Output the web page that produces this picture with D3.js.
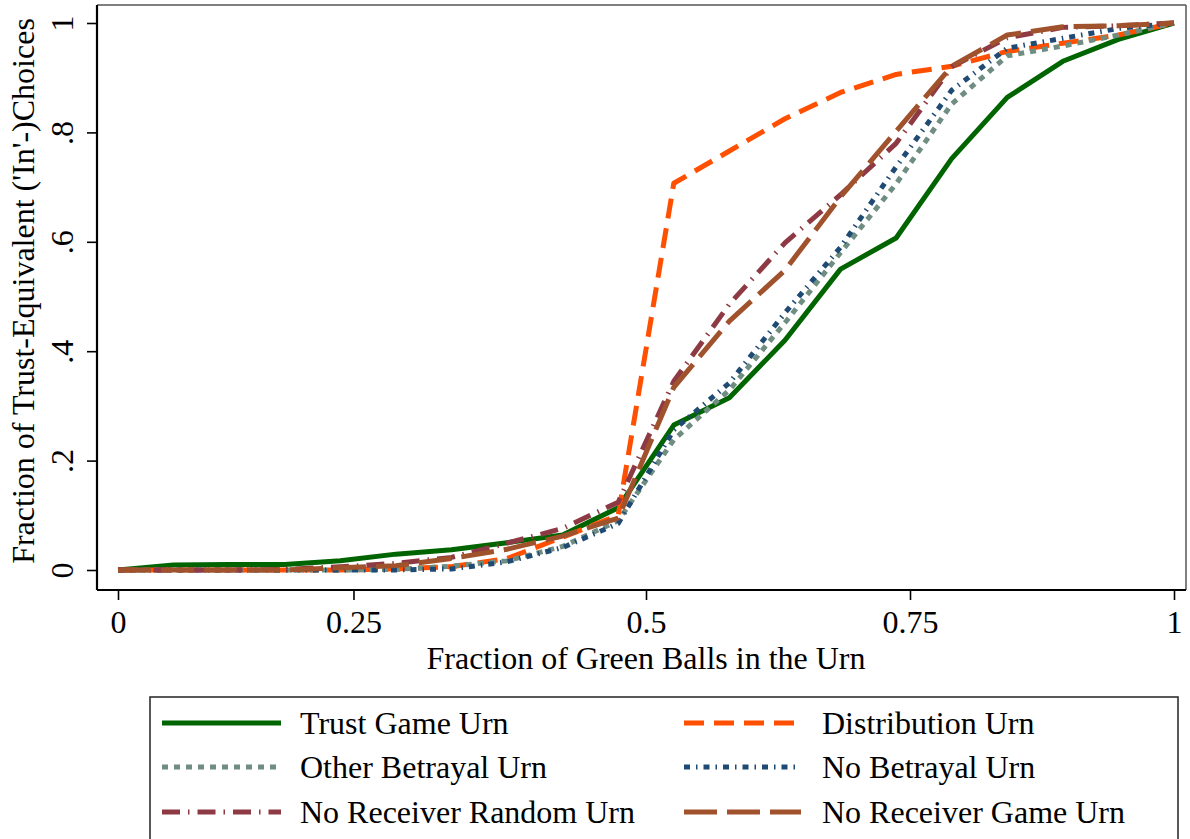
<!DOCTYPE html>
<html>
<head>
<meta charset="utf-8">
<script src="https://cdn.jsdelivr.net/npm/d3@7"></script>
<style>
  html, body { margin: 0; padding: 0; background: #ffffff; }
  svg { display: block; }
  text { font-family: "Liberation Serif", "Times New Roman", serif; fill: #000; }
</style>
</head>
<body>
<svg id="chart" width="1190" height="839"></svg>
<script>
// ---------------- data ----------------
const xValues = [0, 1/19, 2/19, 3/19, 4/19, 5/19, 6/19, 7/19, 8/19, 9/19, 10/19, 11/19, 12/19, 13/19, 14/19, 15/19, 16/19, 17/19, 18/19, 1];

const trustGameUrn      = [0, 0.009, 0.01, 0.01, 0.017, 0.029, 0.037, 0.05, 0.064, 0.114, 0.265, 0.315, 0.42, 0.55, 0.607, 0.752, 0.864, 0.93, 0.97, 1];
const distributionUrn   = [0, 0, 0, 0, 0, 0.002, 0.006, 0.021, 0.06, 0.1, 0.707, 0.766, 0.825, 0.873, 0.906, 0.921, 0.948, 0.963, 0.978, 1];
const otherBetrayalUrn  = [0, 0, 0, 0, 0, 0.001, 0.007, 0.017, 0.043, 0.09, 0.238, 0.329, 0.452, 0.58, 0.706, 0.852, 0.94, 0.958, 0.978, 1];
const noBetrayalUrn     = [0, 0, 0, 0, 0, 0, 0.002, 0.015, 0.041, 0.085, 0.256, 0.342, 0.47, 0.59, 0.737, 0.877, 0.954, 0.972, 0.99, 1];
const noReceiverRandom  = [0, 0, 0, 0.001, 0.006, 0.012, 0.023, 0.049, 0.076, 0.124, 0.345, 0.486, 0.598, 0.686, 0.78, 0.92, 0.973, 0.992, 0.995, 1];
const noReceiverGame    = [0, 0, 0, 0, 0.004, 0.008, 0.021, 0.038, 0.062, 0.095, 0.334, 0.455, 0.548, 0.682, 0.802, 0.921, 0.978, 0.993, 0.995, 1];

const seriesNames = ["Trust Game Urn", "Distribution Urn", "Other Betrayal Urn", "No Betrayal Urn", "No Receiver Random Urn", "No Receiver Game Urn"];
const seriesValues = [trustGameUrn, distributionUrn, otherBetrayalUrn, noBetrayalUrn, noReceiverRandom, noReceiverGame];

const xTickValues = [0, 0.223, 0.5, 0.75, 1];
const xTickLabels = ["0", "0.25", "0.5", "0.75", "1"];
const yTickValues = [0, 0.2, 0.4, 0.6, 0.8, 1];
const yTickLabels = ["0", ".2", ".4", ".6", ".8", "1"];

const xTitle = "Fraction of Green Balls in the Urn";
const yTitle = "Fraction of Trust-Equivalent ('In'-)Choices";

// ---------------- styles ----------------
const styles = [
  { color: "#006400", dash: null },
  { color: "#ff4f00", dash: "20,10" },
  { color: "#6f8d80", dash: "6,6" },
  { color: "#1f4a73", dash: "6,6,1.5,6" },
  { color: "#8e3a44", dash: "18,8,1.5,8" },
  { color: "#a0522d", dash: "33,10" }
];
const FS = 32;

// ---------------- layout ----------------
const svg = d3.select("#chart");
const frame = { left: 97, right: 1186, top: 5, bottom: 590 };

const x = d3.scaleLinear().domain([0, 1]).range([118, 1174]);
const y = d3.scaleLinear().domain([0, 1]).range([570, 23]);

// plot region border (top & right, thin)
svg.append("line").attr("x1", frame.left).attr("x2", frame.right).attr("y1", frame.top).attr("y2", frame.top)
  .attr("stroke", "#555").attr("stroke-width", 1.5);
svg.append("line").attr("x1", frame.right).attr("x2", frame.right).attr("y1", frame.top).attr("y2", frame.bottom)
  .attr("stroke", "#555").attr("stroke-width", 1.5);

// x axis
const xAxis = d3.axisBottom(x)
  .tickValues(xTickValues)
  .tickFormat((d, i) => xTickLabels[i])
  .tickSize(10).tickPadding(6).tickSizeOuter(0);
const gx = svg.append("g").attr("transform", `translate(0,${frame.bottom})`).call(xAxis);
gx.select(".domain").attr("d", `M${frame.left},0H${frame.right}`).attr("stroke", "#000").attr("stroke-width", 2.2);
gx.selectAll(".tick line").attr("stroke", "#000").attr("stroke-width", 1.6);
gx.selectAll(".tick text").attr("font-size", FS).attr("font-family", "Liberation Serif").attr("fill", "#000").attr("dy", "0.85em");

// y axis
const yAxis = d3.axisLeft(y)
  .tickValues(yTickValues)
  .tickFormat((d, i) => yTickLabels[i])
  .tickSize(10).tickPadding(0).tickSizeOuter(0);
const gy = svg.append("g").attr("transform", `translate(${frame.left},0)`).call(yAxis);
gy.select(".domain").attr("d", `M0,${frame.top}V${frame.bottom}`).attr("stroke", "#000").attr("stroke-width", 2.2);
gy.selectAll(".tick line").attr("stroke", "#000").attr("stroke-width", 1.6);
gy.selectAll(".tick text")
  .attr("font-size", FS).attr("font-family", "Liberation Serif").attr("fill", "#000")
  .attr("x", null).attr("dy", null)
  .attr("text-anchor", "middle")
  .attr("transform", "translate(-35,0) rotate(-90)")
  .attr("y", 0).attr("dy", "0.35em");

// axis titles
svg.append("text").attr("x", 646).attr("y", 669).attr("text-anchor", "middle")
  .attr("font-size", FS).text(xTitle);
svg.append("text").attr("transform", "translate(34,291) rotate(-90)").attr("text-anchor", "middle")
  .attr("font-size", FS).text(yTitle);

// lines
const lineGen = d3.line().x((d, i) => x(xValues[i])).y(d => y(d));
const gLines = svg.append("g");
seriesValues.forEach((vals, si) => {
  gLines.append("path")
    .attr("d", lineGen(vals))
    .attr("fill", "none")
    .attr("stroke", styles[si].color)
    .attr("stroke-width", 5)
    .attr("stroke-linejoin", "round")
    .attr("stroke-dasharray", styles[si].dash);
});

// legend
const legend = svg.append("g");
legend.append("rect").attr("x", 150).attr("y", 697).attr("width", 1028).attr("height", 160)
  .attr("fill", "#fff").attr("stroke", "#222").attr("stroke-width", 1.5);
const colX = [{ lx1: 162, lx2: 281, tx: 300 }, { lx1: 684, lx2: 801, tx: 822 }];
const rowY = [723, 767, 812];
seriesNames.forEach((name, i) => {
  const c = colX[i % 2], r = rowY[Math.floor(i / 2)];
  legend.append("line").attr("x1", c.lx1).attr("x2", c.lx2).attr("y1", r).attr("y2", r)
    .attr("stroke", styles[i].color).attr("stroke-width", 5)
    .attr("stroke-dasharray", styles[i].dash);
  legend.append("text").attr("x", c.tx).attr("y", r).attr("dy", "0.35em")
    .attr("font-size", FS).text(name);
});
</script>
</body>
</html>
